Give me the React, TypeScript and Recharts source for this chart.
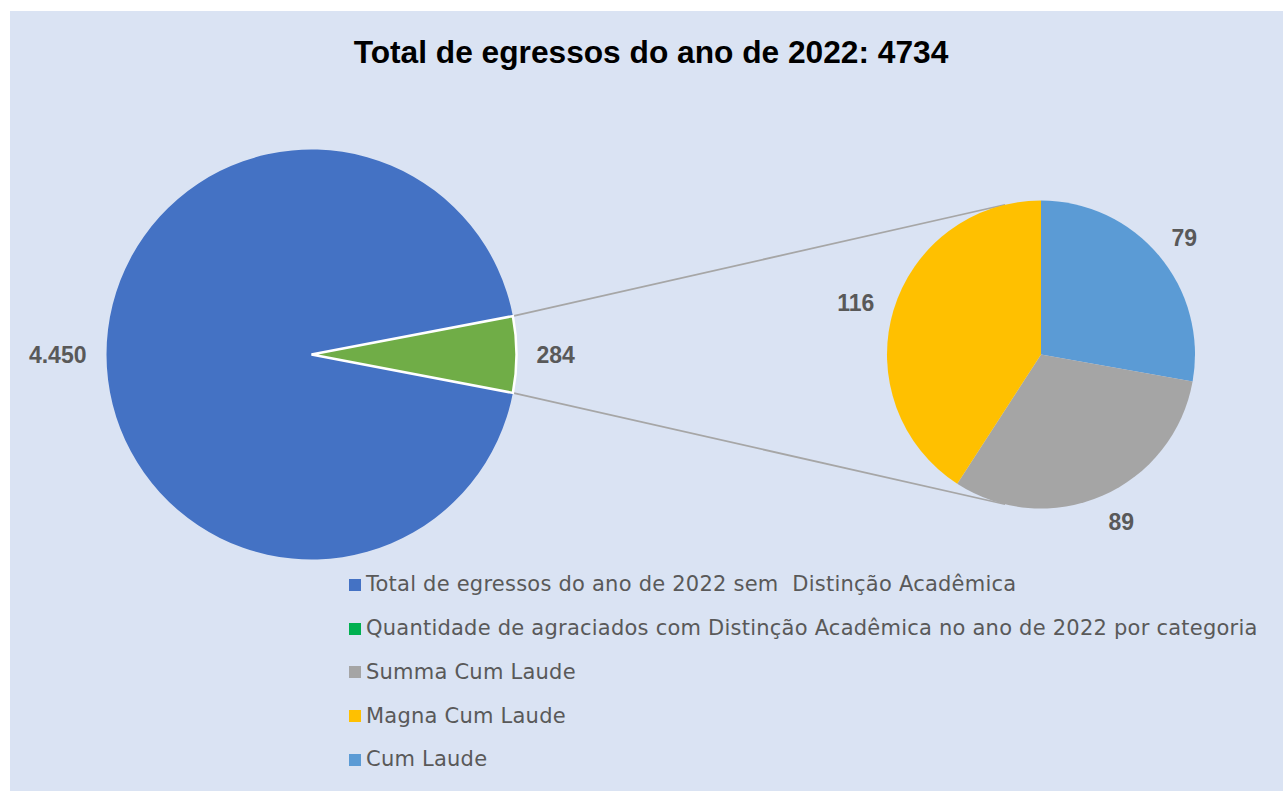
import { PieChart, Pie, Cell, Legend, Customized } from "recharts";

// main pie: not distinguished vs. distinguished
const mainNames = [
  "Total de egressos do ano de 2022 sem  Distinção Acadêmica",
  "Quantidade de agraciados com Distinção Acadêmica no ano de 2022 por categoria",
];
const mainValues = [4450, 284];
const mainColors = ["#4472C4", "#70AD47"];

// second pie: breakdown of the 284
const detailNames = ["Cum Laude", "Summa Cum Laude", "Magna Cum Laude"];
const detailValues = [79, 89, 116];
const detailColors = ["#5B9BD5", "#A5A5A5", "#FFC000"];

const legendNames = [
  "Total de egressos do ano de 2022 sem  Distinção Acadêmica",
  "Quantidade de agraciados com Distinção Acadêmica no ano de 2022 por categoria",
  "Summa Cum Laude",
  "Magna Cum Laude",
  "Cum Laude",
];
const legendColors = ["#4472C4", "#00B050", "#A5A5A5", "#FFC000", "#5B9BD5"];

const title = "Total de egressos do ano de 2022: 4734";

const W = 1273;
const H = 780;
const MAIN = { cx: 301.5, cy: 343.5, r: 205 };
const DETAIL = { cx: 1031, cy: 343.5, r: 154 };
const RAD = Math.PI / 180;
const LABEL_FONT = 23;

const mainData = mainNames.map((name, i) => ({ name, value: mainValues[i] }));
const detailData = detailNames.map((name, i) => ({ name, value: detailValues[i] }));
const mainTotal = mainValues.reduce((a, b) => a + b, 0);
const halfAngle = (mainValues[1] / mainTotal) * 180;

const fmt = (v: number) => v.toLocaleString("de-DE");

const textWidth = (s: string) =>
  s.split("").reduce((w, c) => w + (c === "." ? 0.278 : 0.556) * LABEL_FONT, 0);

const renderLabel = (props: any) => {
  const { cx, cy, midAngle, outerRadius, value } = props;
  const cos = Math.cos(-midAngle * RAD);
  const sin = Math.sin(-midAngle * RAD);
  const text = fmt(value);
  const w = textWidth(text);
  const h = LABEL_FONT * 0.72;
  const px = cx + (outerRadius + 20) * cos;
  const py = cy + (outerRadius + 20) * sin;
  const x = px + (cos * w) / 2 + (sin > 0.8 ? 6 : 0);
  const y = py + (sin * h) / 2;
  return (
    <text
      x={x}
      y={y}
      textAnchor="middle"
      dominantBaseline="central"
      fill="#595959"
      fontFamily="'Liberation Sans', Arial, sans-serif"
      fontWeight="bold"
      fontSize={LABEL_FONT}
    >
      {text}
    </text>
  );
};

const Extras = () => {
  const a = halfAngle * RAD;
  const b = 13.5 * RAD;
  const x1 = MAIN.cx + MAIN.r * Math.cos(a);
  const yTop = MAIN.cy - MAIN.r * Math.sin(a);
  const yBot = MAIN.cy + MAIN.r * Math.sin(a);
  const x2 = DETAIL.cx - DETAIL.r * Math.sin(b);
  const y2Top = DETAIL.cy - DETAIL.r * Math.cos(b);
  const y2Bot = DETAIL.cy + DETAIL.r * Math.cos(b);
  return (
    <g>
      <line x1={x1} y1={yTop} x2={x2} y2={y2Top} stroke="#A6A6A6" strokeWidth={1.75} />
      <line x1={x1} y1={yBot} x2={x2} y2={y2Bot} stroke="#A6A6A6" strokeWidth={1.75} />
      <text
        x={641}
        y={51.5}
        textAnchor="middle"
        fill="#000"
        fontFamily="'Liberation Sans', Arial, sans-serif"
        fontWeight="bold"
        fontSize={31.7}
      >
        {title}
      </text>
    </g>
  );
};

const renderLegend = () => (
  <div>
    {legendNames.map((name, i) => (
      <div
        key={i}
        style={{ display: "flex", alignItems: "center", height: 43.75 }}
      >
        <span
          style={{
            width: 12,
            height: 12,
            background: legendColors[i],
            marginRight: 5,
            flex: "none",
          }}
        />
        <span
          style={{
            fontFamily: "'DejaVu Sans', sans-serif",
            fontSize: 21,
            letterSpacing: 0.23,
            color: "#595959",
            whiteSpace: "pre",
            lineHeight: "21px",
          }}
        >
          {name}
        </span>
      </div>
    ))}
  </div>
);

export default function App() {
  return (
    <div
      style={{
        position: "absolute",
        left: 10,
        top: 11,
        width: W,
        height: H,
        background: "#DAE3F3",
      }}
    >
      <PieChart width={W} height={H} margin={{ top: 0, right: 0, bottom: 0, left: 0 }}>
        <Pie
          data={mainData}
          dataKey="value"
          nameKey="name"
          cx={MAIN.cx}
          cy={MAIN.cy}
          outerRadius={MAIN.r}
          startAngle={-halfAngle}
          endAngle={-halfAngle - 360}
          label={renderLabel}
          labelLine={false}
          isAnimationActive={false}
        >
          {mainData.map((d, i) => (
            <Cell
              key={`m-${i}`}
              fill={mainColors[i]}
              stroke={i === 1 ? "#FFFFFF" : "none"}
              strokeWidth={i === 1 ? 2.5 : 0}
            />
          ))}
        </Pie>
        <Pie
          data={detailData}
          dataKey="value"
          nameKey="name"
          cx={DETAIL.cx}
          cy={DETAIL.cy}
          outerRadius={DETAIL.r}
          startAngle={90}
          endAngle={-270}
          stroke="none"
          label={renderLabel}
          labelLine={false}
          isAnimationActive={false}
        >
          {detailData.map((d, i) => (
            <Cell key={`d-${i}`} fill={detailColors[i]} />
          ))}
        </Pie>
        <Customized component={Extras} />
        <Legend
          content={renderLegend}
          layout="vertical"
          wrapperStyle={{ left: 339, top: 552, width: 930 }}
        />
      </PieChart>
    </div>
  );
}
